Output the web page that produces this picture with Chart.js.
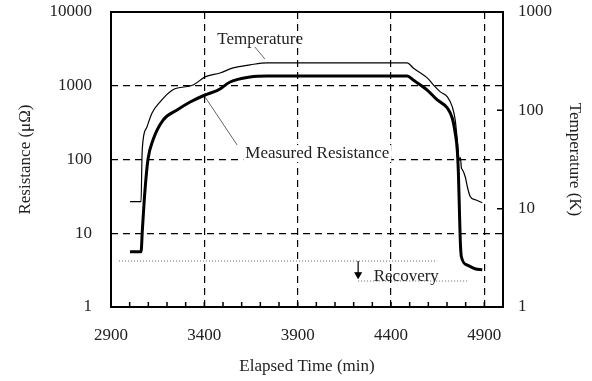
<!DOCTYPE html>
<html>
<head>
<meta charset="utf-8">
<script src="https://cdn.jsdelivr.net/npm/chart.js@4.4.1/dist/chart.umd.min.js"></script>
<style>
    html, body { margin: 0; padding: 0; background: #fff; }
</style>
</head>
<body>
<canvas id="chart" width="592" height="381"></canvas>
<script>
// Resistance / temperature during a warm-up run

// ---- data ----
const resTime  = [3002, 3061, 3068, 3082, 3098, 3125, 3179, 3254, 3324, 3404, 3468, 3484, 3538, 3645, 3736,
                  4487, 4519, 4594, 4648, 4702, 4728, 4744, 4755, 4761, 4766, 4771, 4777, 4809, 4850, 4889];
const resValue = [5.6, 5.6, 11, 38, 100, 184, 343, 469, 602, 749, 860, 903, 1124, 1314, 1355,
                  1355, 1197, 875, 641, 499, 365, 229, 134, 66, 23, 8.1, 4.8, 3.7, 3.3, 3.2];

const tempTime  = [3002, 3061, 3066, 3072, 3093, 3120, 3163, 3232, 3340, 3404, 3484, 3554, 3645, 3736,
                   4487, 4519, 4594, 4637, 4664, 4702, 4728, 4744, 4755, 4766, 4772, 4777, 4782, 4798,
                   4809, 4825, 4852, 4889];
const tempValue = [11.8, 11.8, 33.7, 50, 68, 94, 122, 162, 181, 219, 240, 270, 290, 304,
                   304, 270, 214, 173, 154, 137, 109, 80, 50, 31, 33, 26, 25, 21,
                   16.7, 13.2, 12.3, 11.5];

// dotted reference levels and the recovery arrow
const level1Time  = [2943, 4648];
const level1Value = [4.2, 4.2];
const level2Time  = [4224, 4809];
const level2Value = [2.25, 2.25];
const arrowTime   = [4224, 4224];
const arrowValue  = [4.2, 2.75];

// leader lines from labels to curves
const tempLeaderTime  = [3671, 3724];
const tempLeaderValue = [3350, 2307];
const resLeaderTime   = [3404, 3576];
const resLeaderValue  = [703, 157];

// annotation texts (positions in data units of the left axis)
const annoText = ['Temperature', 'Measured Resistance', 'Recovery'];
const annoX    = [3699, 4005, 4482];
const annoY    = [4170, 122, 2.55];
const annoMask = [false, true, false];

// ticks
const xTicks     = [2900, 3400, 3900, 4400, 4900];
const xMinor     = [3000, 3100, 3200, 3300, 3400, 3500, 3600, 3700, 3800, 3900,
                    4000, 4100, 4200, 4300, 4400, 4500, 4600, 4700, 4800, 4900];
const resTicks   = [1, 10, 100, 1000, 10000];
const tempTicks  = [1, 10, 100, 1000];

const FONT = '"Liberation Serif", "Times New Roman", serif';
const pairs = (xs, ys) => xs.map((x, i) => ({ x: x, y: ys[i] }));
const hideEdge = (lo, hi) => c => (c.tick && (c.tick.value === lo || c.tick.value === hi)) ? 'rgba(0,0,0,0)' : '#000';
const noPad = s => { s.paddingTop = 0; s.paddingBottom = 0; s.paddingLeft = 0; s.paddingRight = 0; };

// frame, inward tick marks and text labels
const decorPlugin = {
    id: 'decor',
    afterDatasetsDraw(chart) {
        const ctx = chart.ctx;
        const a = chart.chartArea;
        const x = chart.scales.x;
        const y = chart.scales.y;
        const y2 = chart.scales.y2;
        ctx.save();
        ctx.strokeStyle = '#000';
        ctx.lineWidth = 1.5;
        ctx.beginPath();
        xMinor.forEach(v => {
            const px = x.getPixelForValue(v);
            ctx.moveTo(px, a.bottom);
            ctx.lineTo(px, a.bottom - 5);
        });
        [10, 100].forEach(v => {
            const py = y2.getPixelForValue(v);
            ctx.moveTo(a.right, py);
            ctx.lineTo(a.right - 6, py);
        });
        ctx.stroke();

        ctx.lineWidth = 2;
        ctx.strokeRect(a.left, a.top, a.right - a.left, a.bottom - a.top);

        ctx.font = '17px ' + FONT;
        ctx.textAlign = 'center';
        ctx.textBaseline = 'middle';
        annoText.forEach((t, i) => {
            const px = x.getPixelForValue(annoX[i]);
            const py = y.getPixelForValue(annoY[i]);
            if (annoMask[i]) {
                const w = ctx.measureText(t).width;
                ctx.fillStyle = '#fff';
                ctx.fillRect(px - w / 2 - 2, py - 8, w + 4, 17);
            }
            ctx.fillStyle = '#222';
            ctx.fillText(t, px, py);
        });
        ctx.restore();
    }
};

const thin = { borderColor: '#666', borderWidth: 1, pointRadius: 0, tension: 0 };

new Chart(document.getElementById('chart'), {
    type: 'line',
    data: {
        datasets: [
            {
                label: 'Measured Resistance',
                data: pairs(resTime, resValue),
                yAxisID: 'y',
                borderColor: '#000',
                borderWidth: 3,
                pointRadius: 0,
                cubicInterpolationMode: 'monotone'
            },
            {
                label: 'Temperature',
                data: pairs(tempTime, tempValue),
                yAxisID: 'y2',
                borderColor: '#000',
                borderWidth: 1.2,
                pointRadius: 0,
                cubicInterpolationMode: 'monotone'
            },
            Object.assign({ data: pairs(level1Time, level1Value), yAxisID: 'y', borderDash: [1, 2], borderColor: '#888' }, thin),
            Object.assign({ data: pairs(level2Time, level2Value), yAxisID: 'y', borderDash: [1, 2], borderColor: '#888' }, thin),
            {
                data: pairs(arrowTime, arrowValue),
                yAxisID: 'y',
                borderColor: '#000',
                borderWidth: 1.2,
                pointRadius: [0, 3.5],
                pointStyle: 'triangle',
                rotation: 180,
                pointBackgroundColor: '#000',
                pointBorderColor: '#000'
            },
            Object.assign({ data: pairs(tempLeaderTime, tempLeaderValue), yAxisID: 'y' }, thin),
            Object.assign({ data: pairs(resLeaderTime, resLeaderValue), yAxisID: 'y' }, thin)
        ]
    },
    options: {
        responsive: false,
        animation: false,
        layout: { padding: { top: 12, left: 0, right: 0, bottom: 0 } },
        plugins: { legend: { display: false }, tooltip: { enabled: false } },
        scales: {
            x: {
                type: 'linear',
                min: 2900,
                max: 5000,
                afterBuildTicks: s => { s.ticks = xTicks.map(v => ({ value: v })); },
                afterFit: s => { s.height = 74; noPad(s); },
                grid: { color: hideEdge(2900, 5000), lineWidth: 1.2, drawTicks: false },
                border: { display: false, dash: [7, 5] },
                ticks: { padding: 18, color: '#222', font: { family: FONT, size: 17 }, callback: v => String(v) },
                title: { display: true, text: 'Elapsed Time (min)', color: '#222', font: { family: FONT, size: 17 }, padding: { top: 0, bottom: 4 } }
            },
            y: {
                type: 'logarithmic',
                position: 'left',
                min: 1,
                max: 10000,
                afterBuildTicks: s => { s.ticks = resTicks.map(v => ({ value: v })); },
                afterFit: s => { s.width = 111; noPad(s); },
                grid: { color: hideEdge(1, 10000), lineWidth: 1.2, drawTicks: false },
                border: { display: false, dash: [7, 5] },
                ticks: { padding: 19, color: '#222', font: { family: FONT, size: 17 }, callback: v => String(v) },
                title: { display: true, text: 'Resistance (μΩ)', color: '#222', font: { family: FONT, size: 17 }, padding: { top: 15, bottom: 0 } }
            },
            y2: {
                type: 'logarithmic',
                position: 'right',
                min: 1,
                max: 1000,
                afterBuildTicks: s => { s.ticks = tempTicks.map(v => ({ value: v })); },
                afterFit: s => { s.width = 89; noPad(s); },
                grid: { drawOnChartArea: false, drawTicks: false },
                border: { display: false },
                ticks: { padding: 15, color: '#222', font: { family: FONT, size: 17 }, callback: v => String(v) },
                title: { display: true, text: 'Temperature (K)', color: '#222', font: { family: FONT, size: 17 }, padding: { top: 7, bottom: 0 } }
            }
        }
    },
    plugins: [decorPlugin]
});
</script>
</body>
</html>
